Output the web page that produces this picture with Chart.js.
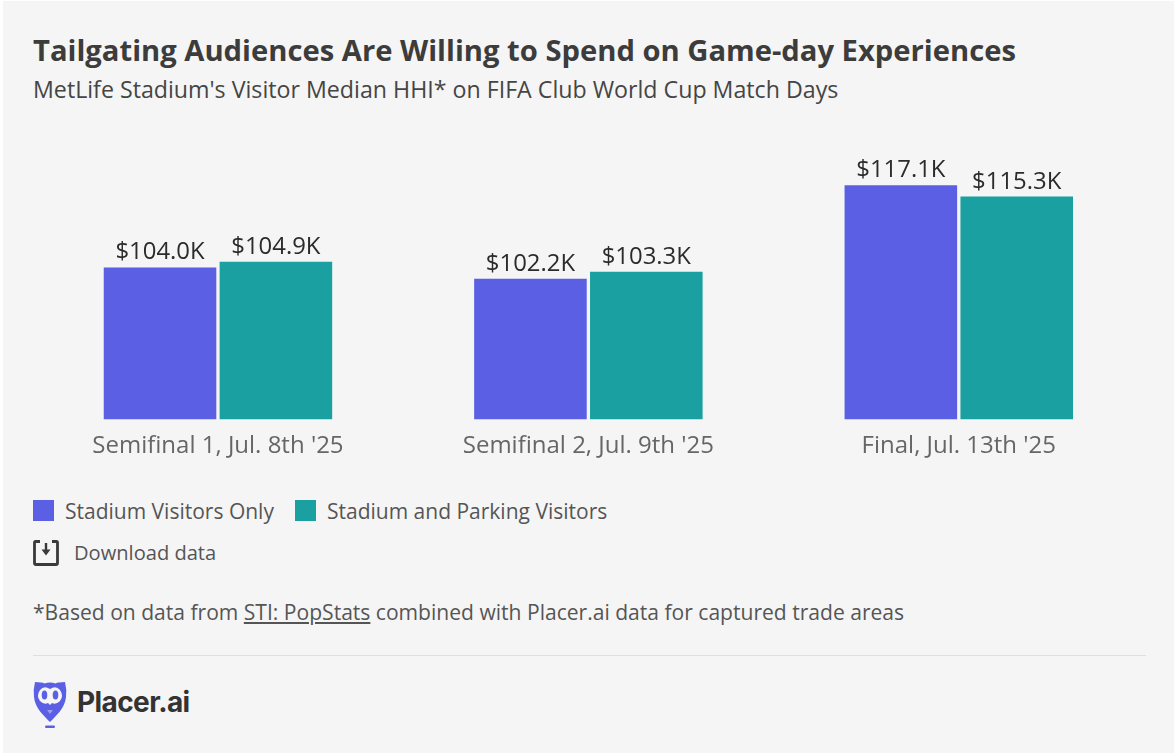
<!DOCTYPE html>
<html>
<head>
<meta charset="utf-8">
<script src="https://cdn.jsdelivr.net/npm/chart.js@4"></script>
<style>
html,body{margin:0;padding:0;background:#fff;}
#page{position:relative;width:1174px;height:753px;overflow:hidden;background:#fff;font-family:"Open Sans",sans-serif;}
#page div,#page a{position:absolute;white-space:nowrap;}
#bg{left:3px;top:1px;right:0;bottom:0;background:#f5f5f5;}
#title{left:33px;top:31px;font-size:29.2px;font-weight:700;color:#3c3c3c;line-height:38px;}
#sub{left:33px;top:72px;font-size:23.2px;color:#454545;line-height:34px;}
#wrap{left:0;top:130px;width:1174px;height:335px;}
#legend{left:33px;top:498px;height:26px;}
.sw{position:absolute;top:2px;width:21px;height:21px;}
.lb{font-size:21px;color:#555;line-height:26px;top:0;}
#dl{left:74px;top:540px;font-size:20.100px;color:#555;line-height:26px;}
#note{left:33px;top:598px;font-size:21.070px;color:#555;line-height:28px;}
#note span{text-decoration:underline;}
#rule{left:33px;top:655px;width:1113px;height:1px;background:#dfdfdf;}
#brand{left:77px;top:682px;font-size:28px;font-weight:700;color:#333;line-height:40px;font-family:"Inter","Open Sans",sans-serif;letter-spacing:-.6px;}
svg{position:absolute;}
</style>
</head>
<body>
<div id="page">
<div id="bg"></div>
<div id="title">Tailgating Audiences Are Willing to Spend on Game-day Experiences</div>
<div id="sub">MetLife Stadium's Visitor Median HHI* on FIFA Club World Cup Match Days</div>
<div id="wrap"><canvas id="c" width="1174" height="335"></canvas></div>
<div id="legend"></div>
<svg style="left:33px;top:540px" width="26" height="26" viewBox="0 0 26 26"><path d="M7 1.500H2.500Q1.500 1.500 1.500 2.500V23Q1.500 24.500 3 24.500H23Q24.500 24.500 24.500 23V2.500Q24.500 1.500 23.500 1.500H19" fill="none" stroke="#3a3a3a" stroke-width="2.800"/><path d="M13 3V11" stroke="#3a3a3a" stroke-width="2.400"/><path d="M8.500 9.500H17.500L13 15.500Z" fill="#3a3a3a"/></svg>
<div id="dl">Download data</div>
<div id="note">*Based on data from <span>STI: PopStats</span> combined with Placer.ai data for captured trade areas</div>
<div id="rule"></div>
<svg style="left:33px;top:680px" width="34" height="49" viewBox="0 0 34 49"><path d="M2 2Q9 2 11.500 3.500Q17 1.500 22.500 3.500Q25 2 32 2Q34 10 33 17C32 28 23 36 17 42C11 36 2 28 1 17Q0 10 2 2Z" fill="#5a5fe3"/><path d="M17 9Q11 5 7 10Q3 16 7 21Q11 25 15 23L17 25L19 23Q23 25 27 21Q31 16 27 10Q23 5 17 9Z" fill="#f5f5f5"/><ellipse cx="11.500" cy="15" rx="2.800" ry="4.500" fill="#5a5fe3"/><ellipse cx="22.500" cy="15" rx="2.800" ry="4.500" fill="#5a5fe3"/><path d="M14 30L17 34L20 30Z" fill="#9a9df0"/><rect x="12" y="45.500" width="10" height="2.500" rx="1.200" fill="#5a5fe3"/></svg>
<div id="brand">Placer.ai</div>
</div>
<script>
const categories = ["Semifinal 1, Jul. 8th '25", "Semifinal 2, Jul. 9th '25", "Final, Jul. 13th '25"];
const stadiumOnly = [104.0, 102.2, 117.1];
const stadiumParking = [104.9, 103.3, 115.3];
const seriesNames = ["Stadium Visitors Only", "Stadium and Parking Visitors"];
const seriesColors = ["#5a5fe3", "#1aa0a0"];

const valueLabels = {
  id: 'valueLabels',
  afterDatasetsDraw(chart) {
    const ctx = chart.ctx;
    ctx.save();
    ctx.font = '23.900px "Open Sans"';
    ctx.fillStyle = '#2b2b2b';
    ctx.textAlign = 'center';
    ctx.textBaseline = 'alphabetic';
    chart.data.datasets.forEach((ds, i) => {
      chart.getDatasetMeta(i).data.forEach((bar, j) => {
        ctx.fillText('$' + ds.data[j].toFixed(1) + 'K', bar.x, bar.y - 8);
      });
    });
    ctx.restore();
  }
};

const chart = new Chart(document.getElementById('c'), {
  type: 'bar',
  data: {
    labels: categories,
    datasets: [
      { label: seriesNames[0], data: stadiumOnly, backgroundColor: seriesColors[0] },
      { label: seriesNames[1], data: stadiumParking, backgroundColor: seriesColors[1] }
    ]
  },
  options: {
    responsive: false,
    animation: false,
    layout: { padding: { left: 32.750, right: 30, top: 7, bottom: 0 } },
    categoryPercentage: 0.6256,
    barPercentage: 0.9715,
    plugins: { legend: { display: false }, tooltip: { enabled: false } },
    scales: {
      x: {
        grid: { display: false },
        border: { display: false },
        ticks: { color: '#666', font: { family: '"Open Sans"', size: 24 }, padding: 4.500, maxRotation: 0 }
      },
      y: { display: false, min: 79.8, max: 124.8 }
    }
  },
  plugins: [valueLabels]
});

const legend = document.getElementById('legend');
let x = 0;
seriesNames.forEach((name, i) => {
  const s = document.createElement('div');
  s.className = 'sw'; s.style.left = x + 'px'; s.style.background = seriesColors[i];
  const l = document.createElement('div');
  l.className = 'lb'; l.style.left = (x + 32) + 'px'; l.textContent = name;
  legend.appendChild(s); legend.appendChild(l);
  x += 262;
});
</script>
</body>
</html>
